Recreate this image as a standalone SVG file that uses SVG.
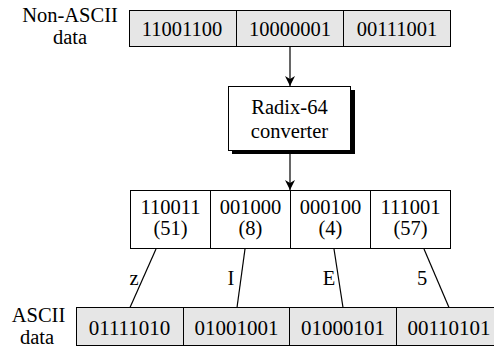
<svg xmlns="http://www.w3.org/2000/svg" width="494" height="348" viewBox="0 0 494 348" font-family="'Liberation Serif', 'Times New Roman', Times, serif">
<style>
text{font-family:"Liberation Serif","Times New Roman",Times,serif;font-size:20.5px;fill:#000;text-anchor:middle}
.big{font-size:21px}
.cell{fill:#e6e6e6;stroke:#000;stroke-width:1}
.wcell{fill:#fff;stroke:#000;stroke-width:1}
.ln{stroke:#000;stroke-width:1.2;fill:none}
</style>
<defs>
<marker id="ah" markerWidth="10" markerHeight="12" refX="10" refY="5" orient="auto" markerUnits="userSpaceOnUse">
<path d="M0,0 L10,5 L0,10 L3,5 Z" fill="#000"/>
</marker>
</defs>
<rect width="494" height="348" fill="#fff"/>
<g id="label-nonascii">
<text x="70" y="22">Non-ASCII</text>
<text x="70" y="44">data</text>
</g>
<g id="nonascii-data">
<rect class="cell" x="129.5" y="10.5" width="107" height="36"/>
<rect class="cell" x="236.5" y="10.5" width="107" height="36"/>
<rect class="cell" x="343.5" y="10.5" width="107" height="36"/>
<text x="182" y="35.5">11001100</text>
<text x="290" y="35.5">10000001</text>
<text x="397" y="35.5">00111001</text>
</g>
<g id="converter">
<rect x="232" y="90" width="123" height="64" fill="#000"/>
<rect class="wcell" x="228.5" y="86.5" width="122" height="64"/>
<text x="289.5" y="113.5">Radix-64</text>
<text x="289.5" y="138">converter</text>
</g>
<g id="sixbit">
<rect class="wcell" x="130.5" y="190.5" width="80" height="58"/>
<rect class="wcell" x="210.5" y="190.5" width="80" height="58"/>
<rect class="wcell" x="290.5" y="190.5" width="80" height="58"/>
<rect class="wcell" x="370.5" y="190.5" width="80" height="58"/>
<text x="170.5" y="214">110011</text>
<text x="170.5" y="235">(51)</text>
<text x="250.5" y="214">001000</text>
<text x="250.5" y="235">(8)</text>
<text x="330.5" y="214">000100</text>
<text x="330.5" y="235">(4)</text>
<text x="410.5" y="214">111001</text>
<text x="410.5" y="235">(57)</text>
</g>
<g id="label-ascii">
<text x="38.5" y="321.5">ASCII</text>
<text x="37" y="344">data</text>
</g>
<g id="ascii-data">
<rect class="cell" x="76.5" y="307.5" width="107" height="38"/>
<rect class="cell" x="183.5" y="307.5" width="106" height="38"/>
<rect class="cell" x="289.5" y="307.5" width="107" height="38"/>
<rect class="cell" x="396.5" y="307.5" width="110" height="38"/>
<text class="big" x="129.5" y="335">01111010</text>
<text class="big" x="236.5" y="335">01001001</text>
<text class="big" x="343" y="335">01000101</text>
<text class="big" x="449" y="335">00110101</text>
</g>
<g id="connectors">
<line class="ln" x1="290" y1="46.5" x2="290" y2="86" marker-end="url(#ah)"/>
<line class="ln" x1="290" y1="154" x2="290" y2="190" marker-end="url(#ah)"/>
<line class="ln" x1="156" y1="249" x2="130" y2="307.5"/>
<line class="ln" x1="245" y1="249" x2="237" y2="307.5"/>
<line class="ln" x1="334" y1="249" x2="343" y2="307.5"/>
<line class="ln" x1="424" y1="249" x2="449" y2="307.5"/>
<text x="134" y="285">z</text>
<text x="231" y="285">I</text>
<text x="329" y="285">E</text>
<text x="422" y="285">5</text>
</g>
</svg>
